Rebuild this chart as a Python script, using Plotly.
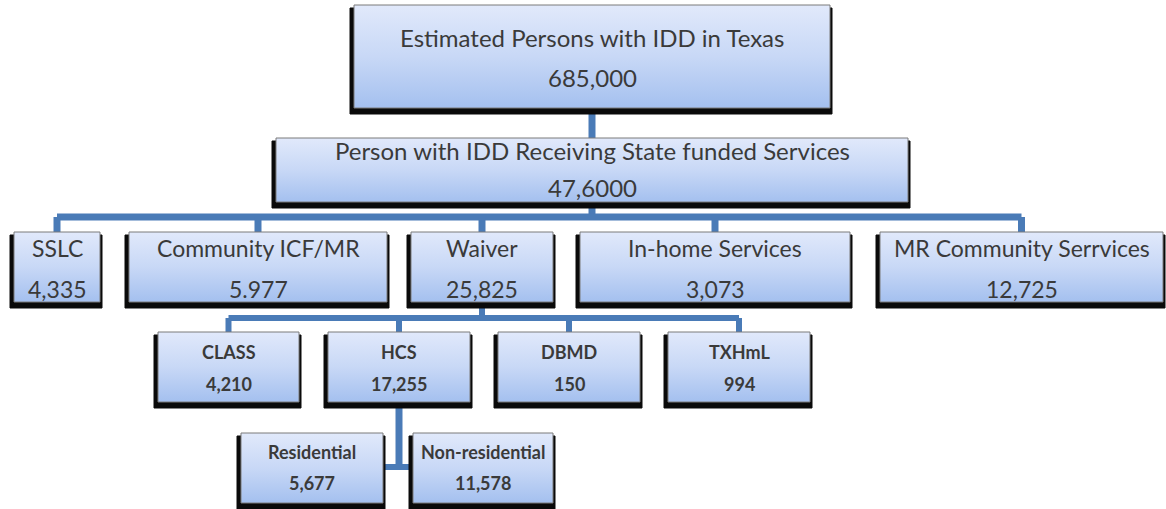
import plotly.graph_objects as go

W, H = 1166, 509

# ---- chart content ----
labels = ["Estimated Persons with IDD in Texas",
          "Person with IDD Receiving State funded Services",
          "SSLC", "Community ICF/MR", "Waiver", "In-home Services", "MR Community Serrvices",
          "CLASS", "HCS", "DBMD", "TXHmL",
          "Residential", "Non-residential"]
counts = ["685,000", "47,6000",
          "4,335", "5.977", "25,825", "3,073", "12,725",
          "4,210", "17,255", "150", "994",
          "5,677", "11,578"]
parents = [None, 0, 1, 1, 1, 1, 1, 4, 4, 4, 4, 8, 8]
levels = [0, 1, 2, 2, 2, 2, 2, 3, 3, 3, 3, 4, 4]

# ---- layout (pixel space, y grows downward) ----
box_x0 = [354, 276, 14, 129, 411, 580, 880, 158, 328, 498, 668, 241, 413]
box_x1 = [830, 908, 100, 387, 553, 850, 1163, 299, 470, 640, 810, 383, 553]
level_y0 = [5, 138, 232, 332, 433]
level_y1 = [108, 202, 302, 402, 503]
bus_y = {0: 125, 1: 217, 4: 318}   # elbow height below each parent
side_y = {8: 467}                  # children joined from the side

label_dy = [32, 12, 16, 20, 19]
value_dy = [72, 49, 57, 52, 50]
font_size = [24, 24, 23, 18, 18]
font_bold = [False, False, False, True, True]

LINE = "#4a7bb7"
GRAD = [[0, "#e1e9fb"], [0.5, "#c8d8f6"], [1, "#a4c0ef"]]

fig = go.Figure()

# connectors
for p in sorted(set(x for x in parents if x is not None)):
    kids = [i for i, q in enumerate(parents) if q == p]
    px = (box_x0[p] + box_x1[p]) / 2
    py = level_y1[levels[p]]
    if p in side_y:
        sy = side_y[p]
        fig.add_trace(go.Scatter(x=[px, px], y=[py, sy], mode="lines",
                                 line=dict(color=LINE, width=7), hoverinfo="skip"))
        xs = [box_x1[kids[0]], box_x0[kids[-1]]]
        fig.add_trace(go.Scatter(x=xs, y=[sy, sy], mode="lines",
                                 line=dict(color=LINE, width=6), hoverinfo="skip"))
        continue
    by = bus_y[p]
    cx = [(box_x0[k] + box_x1[k]) / 2 for k in kids]
    w = 7 if levels[p] < 2 else 6
    fig.add_trace(go.Scatter(x=[px, px], y=[py, by], mode="lines",
                             line=dict(color=LINE, width=w), hoverinfo="skip"))
    fig.add_trace(go.Scatter(x=[min(cx), max(cx)], y=[by, by], mode="lines",
                             line=dict(color=LINE, width=w), hoverinfo="skip"))
    for k, x in zip(kids, cx):
        fig.add_trace(go.Scatter(x=[x, x], y=[by, level_y0[levels[k]]], mode="lines",
                                 line=dict(color=LINE, width=w), hoverinfo="skip"))

# shadows and boxes
for i in range(len(labels)):
    x0, x1 = box_x0[i], box_x1[i]
    y0, y1 = level_y0[levels[i]], level_y1[levels[i]]
    sx0, sx1, sy0, sy1 = x0 - 4, x1 + 2, y0 + 3, y1 + 6
    fig.add_trace(go.Scatter(x=[sx0, sx1, sx1, sx0, sx0], y=[sy0, sy0, sy1, sy1, sy0],
                             mode="lines", fill="toself", fillcolor="#0a0a0a",
                             line=dict(color="#0a0a0a", width=1), hoverinfo="skip"))
    fig.add_trace(go.Scatter(x=[x0, x1, x1, x0, x0], y=[y0, y0, y1, y1, y0],
                             mode="lines", fill="toself",
                             fillgradient=dict(type="vertical", colorscale=GRAD,
                                               start=y0, stop=y1),
                             line=dict(color="#7a7a7a", width=1), hoverinfo="skip"))

# texts
for i in range(len(labels)):
    lv = levels[i]
    cx = (box_x0[i] + box_x1[i]) / 2
    y0 = level_y0[lv]
    for txt, dy in ((labels[i], label_dy[lv]), (counts[i], value_dy[lv])):
        fig.add_annotation(x=cx, y=y0 + dy, text=f"<b>{txt}</b>" if font_bold[lv] else txt,
                           showarrow=False, xanchor="center", yanchor="middle",
                           font=dict(family="Lato", size=font_size[lv], color="#3a3a3a"))

fig.update_layout(
    width=W, height=H, margin=dict(l=0, r=0, t=0, b=0),
    plot_bgcolor="white", paper_bgcolor="white", showlegend=False,
    xaxis=dict(range=[0, W], visible=False, fixedrange=True),
    yaxis=dict(range=[H, 0], visible=False, fixedrange=True),
)

# page body has a default margin; drop it so the figure sits at the window origin
fig.write_html("out.html", config={"displayModeBar": False},
               post_script="document.body.style.margin='0';")
